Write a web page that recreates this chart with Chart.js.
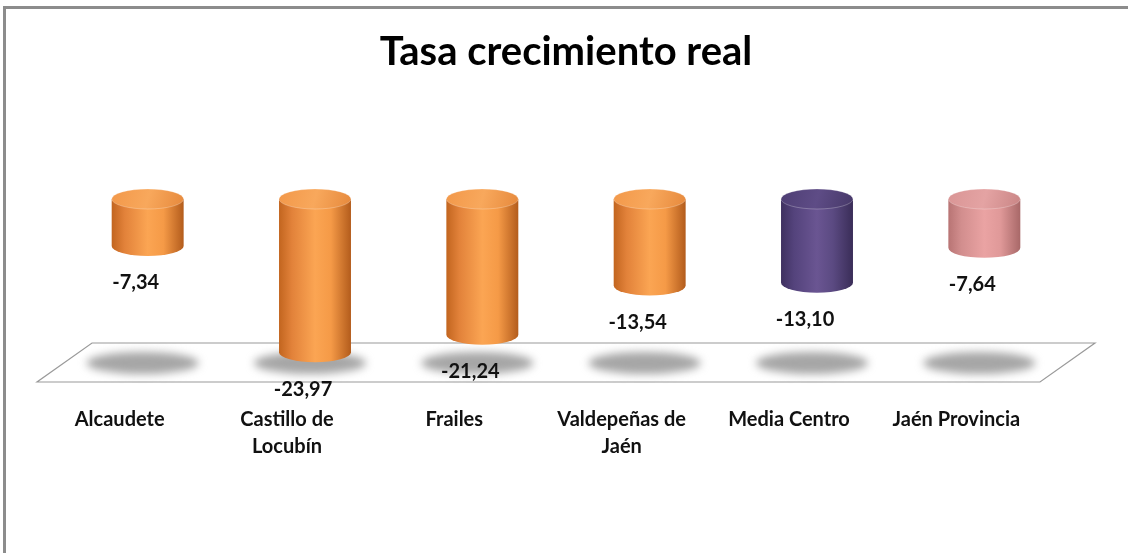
<!DOCTYPE html>
<html>
<head>
<meta charset="utf-8">
<script src="https://cdn.jsdelivr.net/npm/chart.js@4.4.0/dist/chart.umd.min.js"></script>
<style>
  html, body { margin: 0; padding: 0; background: #fff; }
  #wrap { position: relative; width: 1128px; height: 553px; }
  #frame { position: absolute; left: 3px; top: 6px; right: -10px; bottom: -10px; border-left: 3px solid #8c8c8c; border-top: 3px solid #8c8c8c; pointer-events: none; }
</style>
</head>
<body>
<div id="wrap">
  <canvas id="c" width="1128" height="553"></canvas>
  <div id="frame"></div>
</div>
<script>
const titleText = "Tasa crecimiento real";
const categories = [
  "Alcaudete",
  ["Castillo de", "Locubín"],
  "Frailes",
  ["Valdepeñas de", "Jaén"],
  "Media Centro",
  "Jaén Provincia"
];
const values = [-7.34, -23.97, -21.24, -13.54, -13.10, -7.64];
const valueLabels = ["-7,34", "-23,97", "-21,24", "-13,54", "-13,10", "-7,64"];
const barColorKeys = ["orange", "orange", "orange", "orange", "purple", "pink"];

const palettes = {
  orange: { body: ["#c2651f", "#e2823a", "#fba553", "#f59a47", "#b35c1c"], cap: ["#f2984a", "#f8a85c", "#e6893c"] },
  purple: { body: ["#3f3160", "#54437c", "#6a5592", "#5b4a82", "#3a2d58"], cap: ["#4e3e74", "#5e4c86", "#463868"] },
  pink:   { body: ["#b87474", "#d28e8e", "#eaa3a3", "#e09999", "#a86868"], cap: ["#d99595", "#e4a3a3", "#c98585"] }
};

const FONT = "Lato, 'Liberation Sans', sans-serif";

const floorPlugin = {
  id: "floor3d",
  beforeDatasetsDraw(chart) {
    const { ctx, chartArea } = chart;
    const L = chartArea.left, R = chartArea.right, B = chartArea.bottom;
    ctx.save();
    ctx.beginPath();
    ctx.moveTo(L + 28, B - 19);
    ctx.lineTo(R + 27, B - 19);
    ctx.lineTo(R - 28, B + 20);
    ctx.lineTo(L - 27, B + 20);
    ctx.closePath();
    ctx.fillStyle = "#ffffff";
    ctx.fill();
    ctx.strokeStyle = "#9a9a9a";
    ctx.lineWidth = 1.2;
    ctx.stroke();
    // shadows
    const meta = chart.getDatasetMeta(0);
    meta.data.forEach((bar) => {
      ctx.save();
      ctx.filter = "blur(4px)";
      ctx.fillStyle = "rgba(150,150,150,0.85)";
      ctx.beginPath();
      ctx.ellipse(bar.x - 5, B + 1, 56, 11, 0, 0, Math.PI * 2);
      ctx.fill();
      ctx.restore();
    });
    ctx.restore();
  },
  afterDatasetsDraw(chart) {
    const { ctx } = chart;
    const meta = chart.getDatasetMeta(0);
    meta.data.forEach((bar, i) => {
      const pal = palettes[barColorKeys[i]];
      const rx = bar.width / 2;
      const ry = 10;
      const top = Math.min(bar.base, bar.y);
      const bottom = Math.max(bar.base, bar.y);
      const xl = bar.x - rx, xr = bar.x + rx;
      ctx.save();
      const g = ctx.createLinearGradient(xl, 0, xr, 0);
      g.addColorStop(0, pal.body[0]);
      g.addColorStop(0.18, pal.body[1]);
      g.addColorStop(0.5, pal.body[2]);
      g.addColorStop(0.72, pal.body[3]);
      g.addColorStop(1, pal.body[4]);
      ctx.beginPath();
      ctx.moveTo(xl, top);
      ctx.lineTo(xl, bottom);
      ctx.ellipse(bar.x, bottom, rx, ry, 0, Math.PI, 0, true);
      ctx.lineTo(xr, top);
      ctx.closePath();
      ctx.fillStyle = g;
      ctx.fill();
      // top cap
      const gc = ctx.createLinearGradient(xl, top - ry, xr, top + ry);
      gc.addColorStop(0, pal.cap[0]);
      gc.addColorStop(0.5, pal.cap[1]);
      gc.addColorStop(1, pal.cap[2]);
      ctx.beginPath();
      ctx.ellipse(bar.x, top, rx, ry, 0, 0, Math.PI * 2);
      ctx.fillStyle = gc;
      ctx.fill();
      ctx.strokeStyle = "rgba(255,255,255,0.25)";
      ctx.lineWidth = 1;
      ctx.stroke();
      ctx.restore();
      // value label
      ctx.save();
      ctx.font = "bold 20px " + FONT;
      ctx.fillStyle = "#111";
      ctx.textAlign = "center";
      ctx.textBaseline = "middle";
      ctx.fillText(valueLabels[i], bar.x - 12, bottom + 37);
      ctx.restore();
    });
  }
};

new Chart(document.getElementById("c"), {
  type: "bar",
  data: {
    labels: categories,
    datasets: [{
      data: values,
      backgroundColor: "rgba(0,0,0,0)",
      borderWidth: 0,
      categoryPercentage: 1,
      barPercentage: 0.43
    }]
  },
  options: {
    responsive: false,
    animation: false,
    events: [],
    layout: { padding: { left: 64, right: 60, top: 8, bottom: 0 } },
    plugins: {
      legend: { display: false },
      tooltip: { enabled: false },
      title: {
        display: true,
        text: titleText,
        color: "#000",
        font: { family: FONT, size: 40, weight: "bold", lineHeight: 1.2 },
        padding: { top: 20, bottom: 123 }
      }
    },
    scales: {
      x: {
        offset: true,
        grid: { display: false, drawTicks: false },
        border: { display: false },
        ticks: {
          color: "#111",
          font: { family: FONT, size: 20, weight: "bold", lineHeight: 1.35 },
          padding: 44,
          labelOffset: -28,
          maxRotation: 0,
          autoSkip: false
        },
        afterFit(s) { s.height = 191; }
      },
      y: {
        display: false,
        min: -25.5,
        max: 0
      }
    }
  },
  plugins: [floorPlugin]
});
</script>
</body>
</html>
